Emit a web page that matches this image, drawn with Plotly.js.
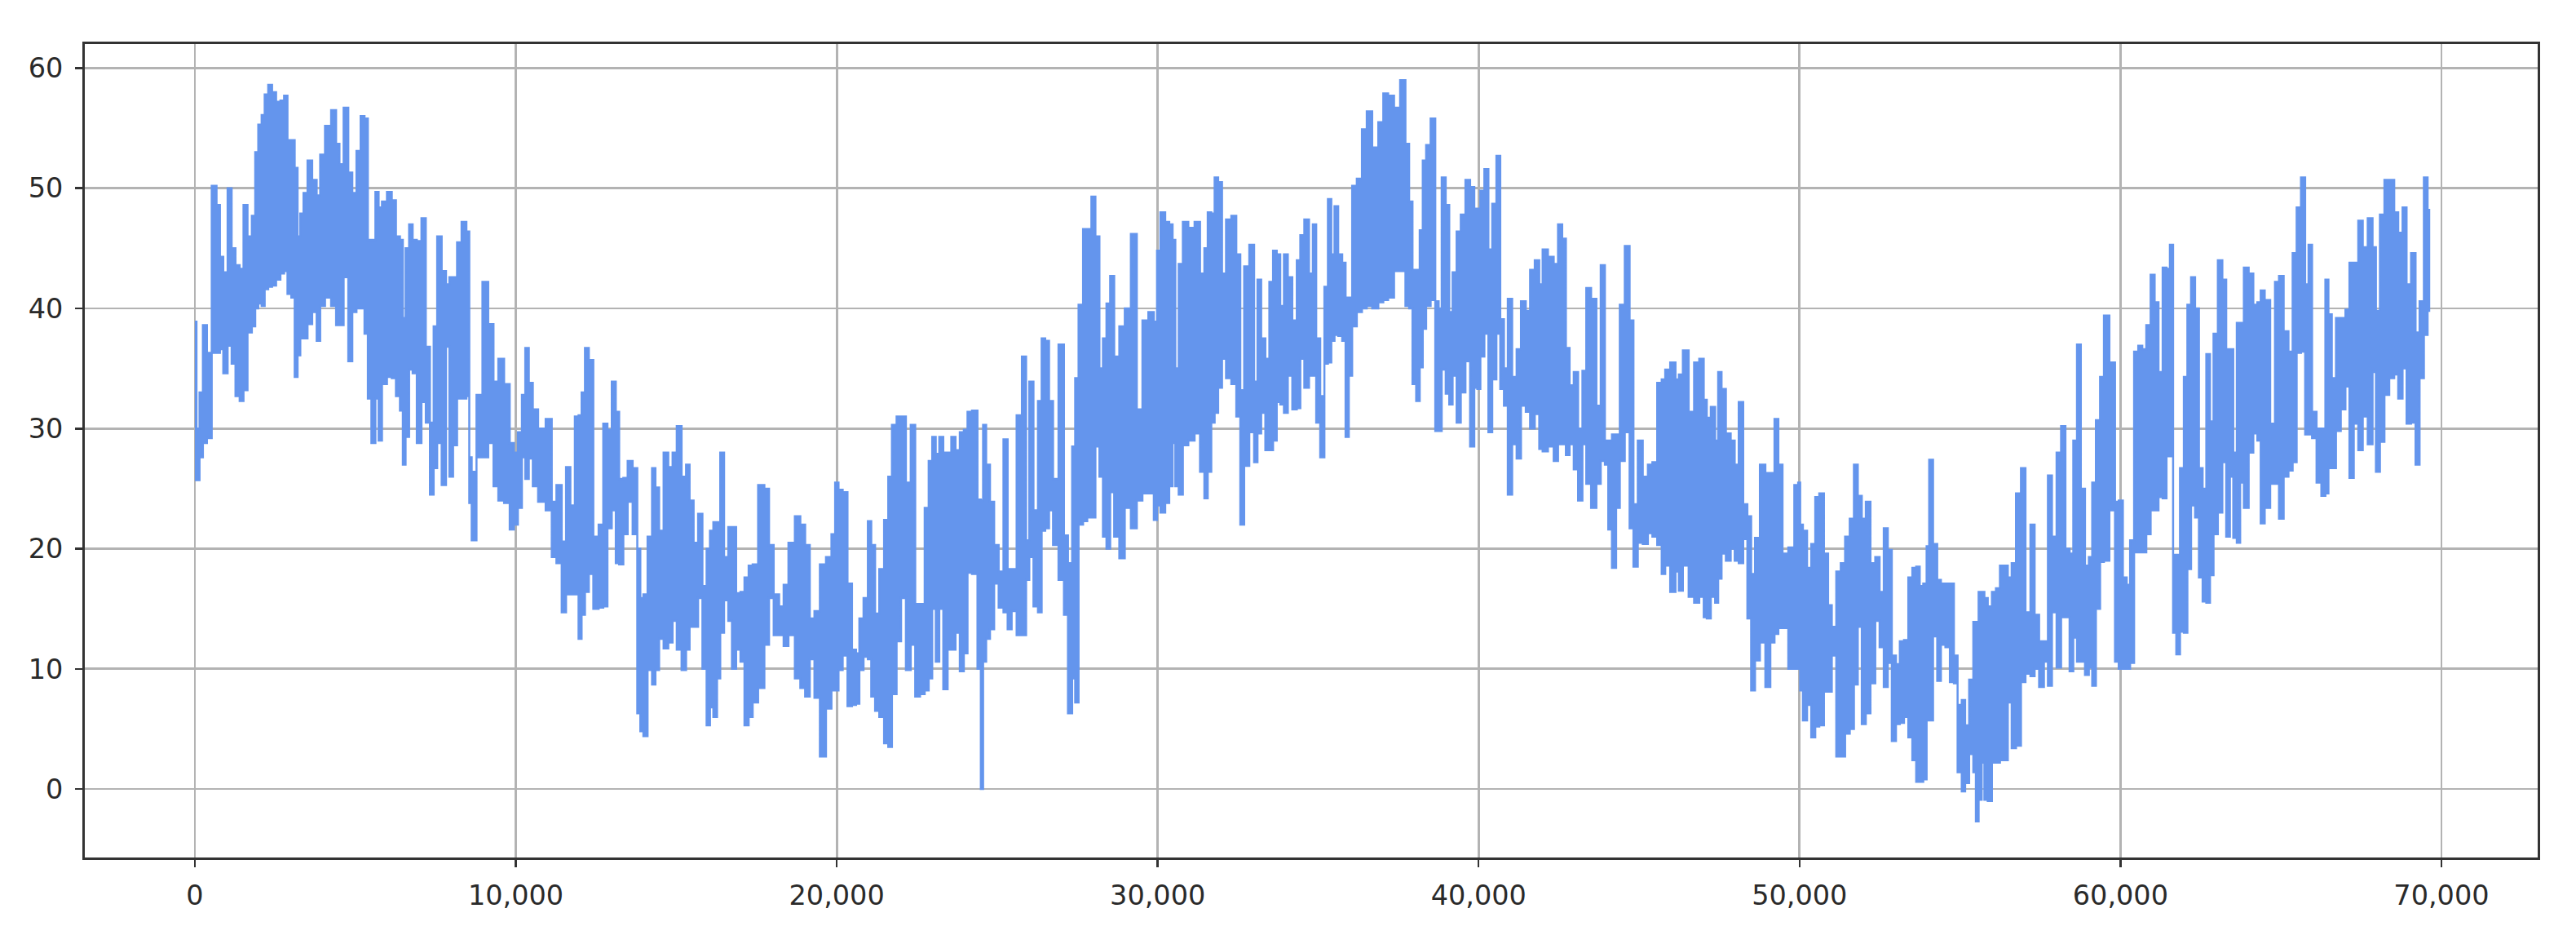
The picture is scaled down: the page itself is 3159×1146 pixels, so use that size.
<!DOCTYPE html>
<html>
<head>
<meta charset="utf-8">
<script src="https://cdn.plot.ly/plotly-3.0.1.min.js"></script>
<style>html,body{margin:0;padding:0;background:#fff}#chart{width:3159px;height:1146px}</style>
</head>
<body>
<div id="chart"></div>
<script>
// Each row: [sample index, upper reading, lower reading]
const decade0 = [[0,38.9,25.7],[100,30,25.7],[190,33,27.6],[310,38.6,28.8],[440,36.3,29.2],[610,50.2,36.3],[740,48.6,36.3],[820,44.3,36.6],[950,43,34.6],[1090,50,36.9],[1200,45,35.4],[1330,43.6,32.7],[1460,43.3,32.3],[1570,48.6,33.2],[1710,46,38],[1840,47.7,38.5],[1920,53,40],[2030,55.3,40.4],[2130,56.1,40.2],[2220,57.8,41.6],[2350,58.6,41.8],[2460,58,41.9],[2600,57.2,42.4],[2730,57.3,42.9],[2830,57.7,43.1],[2940,54,41.2],[3070,54,40.9],[3150,51.7,34.3],[3250,46,36.1],[3320,47.9,37.5],[3450,49.6,37.5],[3570,52.3,38.7],[3740,50.7,39.7],[3850,49.4,37.3],[3960,52.8,40.2],[4150,55.2,40.9],[4340,56.5,40.2],[4460,53.7,38.6],[4550,52,38.6],[4720,56.7,42.6],[4840,51.3,35.6],[4970,49.6,39.7],[5100,53.1,40],[5230,56,40],[5340,55.8,37.9],[5440,45.7,32.5],[5560,45.7,28.8],[5690,49.7,32.5],[5760,48.4,29],[5900,48.9,33.7],[6070,49.7,34.3],[6200,49,34.2],[6330,46,32.7],[6450,45.7,31.5],[6510,39.2,27],[6620,45,29.3],[6730,47,34.9],[6840,45.7,34.6],[6990,45.6,28.8],[7130,47.5,32.2],[7260,36.8,30.5],[7390,30.5,24.5],[7490,38.5,26.7],[7610,46,28.8],[7770,43.1,25.3],[7880,42,36.8],[7980,42.6,26],[8110,42.6,28.6],[8230,45.5,32.5],[8390,47.2,32.5],[8530,46.4,32.7],[8570,27.6,23.8],[8680,26.4,20.7],[8870,32.8,27.6],[9050,42.2,27.6],[9230,38.7,28.8],[9380,33.9,25.2],[9530,35.8,24],[9740,33.7,23.8],[9880,28.8,21.6]];
const decade1 = [[10000,28,22],[10130,29.7,23.4],[10250,32.8,27.6],[10340,36.7,25.8],[10470,33.8,27.5],[10590,31.6,25.2],[10800,30,23.9],[11060,30.8,23.2],[11180,23.9,19.3],[11350,25.3,18.8],[11510,20.6,14.7],[11620,26.8,16.2],[11780,23.6,16.2],[11900,31,16.2],[12010,31.1,12.5],[12090,33,14.5],[12220,36.7,16.4],[12330,35.7,17.9],[12500,21,15],[12660,22,15.1],[12790,30.4,15.2],[12920,29.9,21.7],[13060,33.9,23.2],[13170,31.4,18.8],[13270,25.8,18.7],[13430,25.9,21.2],[13540,27.3,23.9],[13740,26.7,21.2],[13830,20,6.3],[13930,15.9,4.8],[14020,16.2,4.4],[14190,21,9.9],[14300,26.7,8.7],[14400,25.1,9.9],[14530,21.5,12.5],[14680,28,11.7],[14820,26.8,12.2],[14950,28,14],[15080,30.2,11.6],[15250,26,9.9],[15360,27,11.6],[15470,24,13.5],[15610,20.5,13.5],[15750,22.9,15.9],[15880,16.9,10],[16010,20,5.3],[16090,21.5,6.8],[16220,22.2,6],[16320,22.2,9.2],[16420,28,13],[16560,19.3,15.7],[16680,21.8,14],[16790,21.8,10],[16940,16.3,11.6],[17060,16.4,10.6],[17190,17.6,5.3],[17320,18.6,6],[17440,18.7,7.2],[17660,25.3,8.4],[17830,25,12],[17950,20.3,15.9],[18120,16.2,12.8],[18290,15.2,12.8],[18400,17,11.9],[18590,20.5,12.8],[18800,22.7,9.2],[18930,22,8.4],[19100,20.3,7.7],[19220,14.2,10.8],[19390,14.8,7.6],[19560,18.7,2.7],[19770,19.3,6.7],[19900,21.2,8.2]];
const decade2 = [[20000,25.5,8.2],[20110,24.9,9.9],[20260,24.7,11.1],[20410,17.1,6.9],[20540,11.6,7],[20660,11.3,7.1],[20750,14.2,9.9],[20920,15.9,11],[21020,22.3,10.8],[21130,20.3,7.7],[21260,14.6,6.5],[21390,18.3,6],[21560,22.4,3.8],[21650,26,3.5],[21790,30.3,7.9],[21940,31,12.3],[22070,31,15.9],[22240,25.5,9.9],[22370,30.3,12],[22520,15.4,7.7],[22670,15.4,7.9],[22810,23.4,8.2],[22920,27.3,9.2],[23030,29.3,15],[23140,27.9,10.6],[23250,29.3,15],[23390,28,8.3],[23520,28,11.6],[23620,29.3,11.6],[23780,28.2,13],[23890,29.7,9.8],[24030,29.9,11.3],[24120,31.4,18],[24310,31.5,17.9],[24460,24.1,10],[24520,24,0],[24600,30.3,10.6],[24710,27,12.5],[24840,23.9,13.3],[24970,20.3,17.1],[25120,18.1,15.1],[25270,29.1,14.7],[25380,18.3,13.3],[25520,18.3,14.8],[25690,31.1,12.8],[25850,36,12.8],[25950,20.7,17.4],[26050,33.9,19.3],[26210,23.2,15.2],[26330,32.3,14.7],[26440,37.5,21.5],[26550,37.3,21.7],[26680,32.3,23.2],[26800,25.8,20.3],[27020,37,17.4],[27140,21.1,14.5],[27270,18.8,6.3],[27400,28.5,9.2],[27460,34.2,7.2],[27610,40.3,22],[27740,46.6,22.3],[27870,46.6,22.6],[28000,49.3,22.6],[28120,46,28.5],[28250,35,26],[28340,37.5,21],[28470,40.4,20],[28570,42.7,24.7],[28720,36,21],[28890,38.5,19.2],[29060,40,23.4],[29270,46.2,21.7],[29430,31.6,24],[29620,39,24.6],[29800,39.7,24.6],[29960,38.9,22.4]];
const decade3 = [[30000,44.8,23.6],[30170,48,23],[30300,47.2,23.8],[30420,47,25.2],[30510,45.7,28.8],[30590,35,25.2],[30720,43.7,24.5],[30850,47.2,28.6],[31060,46.7,29],[31240,47.2,29.6],[31400,42.9,26.4],[31510,45,24.2],[31610,48,26.4],[31730,47.9,30.5],[31820,50.9,31.3],[31950,50.5,33.4],[32060,42.9,35.8],[32200,47.4,34.2],[32390,47.7,33.7],[32510,44.5,31],[32640,33.2,22],[32750,43.5,26.9],[32960,45.3,29.7],[33050,33.9,27.2],[33170,42.4,29.6],[33280,37.5,31.3],[33430,35.8,28.2],[33530,42.2,28.2],[33660,44.8,29],[33760,44.5,32.2],[33880,40.2,32],[33990,44.5,31.3],[34120,42.6,34.4],[34270,39,31.6],[34400,44,31.7],[34490,46.1,35.8],[34650,47.4,33.4],[34780,42.9,34.4],[34890,47,34.4],[34990,37.5,30.5],[35140,32.7,27.6],[35250,41.8,35.4],[35360,49.1,35.5],[35460,44.5,37.3],[35560,48.5,37.8],[35690,44.5,37.7],[35810,43.8,37.3],[35900,40.9,29.3],[36010,40.9,34.4],[36110,50.2,38.5],[36300,50.8,39.7],[36430,54.9,40],[36600,56.4,40.2],[36770,53.4,40],[36980,55.5,40.5],[37080,57.9,40.7],[37280,57.7,40.9],[37450,56.7,43.1],[37660,59,43.1],[37780,53.7,40.2],[37890,48.9,40],[37990,43.2,33.7],[38120,43.2,32.3],[38210,46.5,35.1],[38310,52.3,38.3],[38420,53.6,40.2],[38590,55.8,40.7],[38710,40.6,29.8],[38800,40,29.8],[38900,50.9,34.9],[39050,48.6,32.9],[39120,39.7,32],[39260,43,34.4],[39370,46.4,30.5],[39520,47.8,33],[39660,50.7,35.6],[39810,50.1,28.5],[39920,48.3,33.4]];
const decade4 = [[40000,48.3,33.3],[40110,49.8,36],[40250,51.6,37.9],[40360,44.9,29.7],[40490,48.7,34.1],[40620,52.7,37.9],[40730,39.1,33.3],[40850,35,31.9],[40970,40.8,24.5],[41120,34.3,28.7],[41250,36.6,27.5],[41390,40.6,31.9],[41550,39.8,31.4],[41660,43.2,30],[41840,44,31.2],[41940,42,28.3],[42050,44.9,28.1],[42270,44.3,28.5],[42410,43.7,27.3],[42540,47,28.7],[42670,45.8,28.7],[42770,36.7,27.8],[42900,33.6,28.7],[43030,34.7,26.6],[43170,30,24],[43300,34.8,28.7],[43410,41.7,25.4],[43600,40.8,23.4],[43740,31.9,25.4],[43870,43.6,27.3],[44000,29,27],[44080,29,21.6],[44230,29.5,18.4],[44340,29.5,23.4],[44460,40.3,27.3],[44650,45.2,29.7],[44760,39,21.7],[44890,23.7,18.5],[45030,29,20.5],[45200,26,20.4],[45350,27,21.3],[45480,27.2,21],[45650,33.8,20.3],[45760,34.1,17.9],[45870,34.9,18.6],[46070,35.5,16.4],[46200,34.1,18.1],[46280,34.5,16.5],[46450,36.5,18.6],[46640,31.4,16],[46790,35.5,15.5],[46960,35.8,16],[47070,32.4,14.3],[47150,30.9,14.2],[47320,31.8,16],[47420,29,15.5],[47510,34.7,17.5],[47630,33.3,19.6],[47780,29.6,19],[47930,29,20],[48030,27,19],[48180,32.2,18.8],[48310,23.7,20.8],[48440,22.7,14.2],[48545,17.9,8.2],[48680,20.9,10.7],[48850,27,12.2],[49020,26.3,8.5],[49160,26.3,12.2],[49280,30.8,12.9],[49400,27,13.4],[49540,19.6,13.4],[49760,20.1,10],[49915,25.3,10]];
const decade5 = [[50000,25.5,10],[50040,22,8.2],[50170,21.5,5.7],[50300,18.4,7],[50430,20.4,4.3],[50550,24.3,5.2],[50680,24.6,5.3],[50840,19.6,8.1],[50940,15.3,8.1],[51070,13.5,11.1],[51220,18.1,2.7],[51350,18.8,2.7],[51490,21,4.6],[51640,22.5,5],[51750,27,8.7],[51880,24.4,13.5],[52000,22.5,5.4],[52130,23.9,6.3],[52290,18.8,8.8],[52430,19.3,14],[52560,16.4,11.8],[52690,21.7,8.5],[52810,19.9,10.5],[52940,11.1,4],[53070,10.4,5.4],[53180,12.3,5.5],[53330,12.4,6],[53450,17.6,4.3],[53580,18.4,2.4],[53690,18.5,0.6],[53800,16.9,0.6],[53910,17.1,0.8],[54010,20.2,5.7],[54070,27.4,5.7],[54250,20.4,12.7],[54330,17.4,9],[54480,17.1,12],[54610,17.1,11.8],[54760,17.1,8.9],[54860,11.1,8.8],[54990,7,1.4],[55120,7.4,-0.2],[55200,5.3,0.5],[55370,9.1,2.9],[55460,13.9,1.4],[55530,13.9,-2.7],[55630,16.4,-0.9],[55720,16.4,2.2],[55800,15.9,-0.9],[55930,15.2,-1],[56060,16.4,2.2],[56180,16.7,2.2],[56310,18.6,2.4],[56410,18.6,2.4],[56570,17.6,7.2],[56650,18.8,3.4],[56840,24.6,3.6],[56960,26.7,8.9],[57120,14.7,9.6],[57270,22,9.4],[57380,14.5,10],[57550,12.3,8.5],[57680,12.3,10.6],[57800,26.1,8.6],[57930,21,14.7],[58090,28,10.1],[58210,30.2,14.3],[58360,20,14.3],[58470,19.6,9.8],[58590,29,12.6],[58700,37,10.6],[58830,25,10.6],[58960,18.6,9.5],[59070,19.3,10.1],[59170,25.5,8.6],[59300,30.7,15],[59430,34.3,18.9],[59540,39.4,19],[59770,35.5,23.2],[59890,23.9,10.6]];
const decade6 = [[60000,24,10],[60150,17.6,10],[60240,17,10],[60360,20.7,10.5],[60490,36.4,19.7],[60620,36.9,19.7],[60740,36.6,19.7],[60870,38.6,21.2],[61010,42.8,23.2],[61120,40.5,23.2],[61250,34.7,24.3],[61380,43.4,24.2],[61490,43.3,27.7],[61590,45.3,27.7],[61690,19.5,13],[61790,19.5,11.2],[61920,26.7,13.1],[62030,34.3,13],[62140,40.3,18.3],[62260,42.6,23.6],[62390,40,22.6],[62500,26.7,17.6],[62620,25,15.6],[62730,36.2,15.5],[62850,30.6,17.8],[62950,37.9,21.2],[63120,44,23],[63230,42.4,27.2],[63360,36.6,21],[63460,36.6,26],[63570,28,20.9],[63680,38.8,20.5],[63780,38.8,25.5],[63910,43.4,23.4],[64080,42.9,28],[64200,40.3,29.6],[64330,40.5,29],[64410,41.5,22.1],[64580,40.7,23.4],[64750,30.4,25.4],[64880,42.2,25.4],[65000,42.7,22.5],[65170,38.1,26],[65300,36.4,26.5],[65430,44.6,27.2],[65550,48.4,36.3],[65700,50.9,36.4],[65810,42,29.5],[65910,45.3,29.5],[66030,31.4,29.2],[66190,30,25.5],[66330,30,24.4],[66440,42.4,24.6],[66520,39.5,26.7],[66650,34.2,26.7],[66780,39.2,29.8],[66950,39.2,31.6],[67070,39.9,33.5],[67200,43.8,25.9],[67340,43.8,30.4],[67480,47.3,28.2],[67620,45.1,31],[67790,47.5,28.7],[67920,45.1,34.7],[68000,39.8,26.4],[68170,47.8,28.9],[68280,50.7,32.8],[68470,50.7,34.2],[68590,48,34.5],[68720,46.3,32.5],[68860,48.4,35],[68970,42,30.4],[69140,44.6,30.5],[69250,38,27],[69390,40.6,34.2],[69520,50.9,37.8],[69620,48.2,39.8]];

const xTicks = [0,10000,20000,30000,40000,50000,60000,70000];
const yTicks = [0,10,20,30,40,50,60];
const lineColor = '#6495ED';

const rows = [].concat(decade0,decade1,decade2,decade3,decade4,decade5,decade6);
const upper = rows.map(function(r){return [r[0],r[1]];});
const lower = rows.map(function(r){return [r[0],r[2]];}).reverse();
const outline = upper.concat(lower);

const axisBase = {
  showgrid:true, gridcolor:'#b3b3b3', gridwidth:2.8, zeroline:false,
  showline:true, mirror:true, linecolor:'#333333', linewidth:3,
  ticks:'outside', ticklen:9, tickwidth:2.5, tickcolor:'#333333',
  tickfont:{family:'DejaVu Sans', size:33.5, color:'#2a2a2a'}
};

Plotly.newPlot('chart',[{
  type:'scatter', mode:'lines',
  x:outline.map(function(p){return p[0];}),
  y:outline.map(function(p){return p[1];}),
  fill:'toself', fillcolor:lineColor,
  line:{color:lineColor,width:2.5,shape:'hvh',simplify:false},
  hoverinfo:'skip', showlegend:false
}],{
  width:3159, height:1146,
  margin:{l:104,r:47,t:54,b:95,pad:0},
  paper_bgcolor:'#ffffff', plot_bgcolor:'#ffffff',
  showlegend:false,
  xaxis:Object.assign({},axisBase,{range:[-3430,73000],ticklabelstandoff:6,tickmode:'array',tickvals:xTicks,ticktext:xTicks.map(function(v){return v.toLocaleString('en-US');})}),
  yaxis:Object.assign({},axisBase,{range:[-5.7,62],ticklabelstandoff:8,tickmode:'array',tickvals:yTicks,ticktext:yTicks.map(String)})
},{staticPlot:true,displayModeBar:false});
</script>
</body>
</html>
